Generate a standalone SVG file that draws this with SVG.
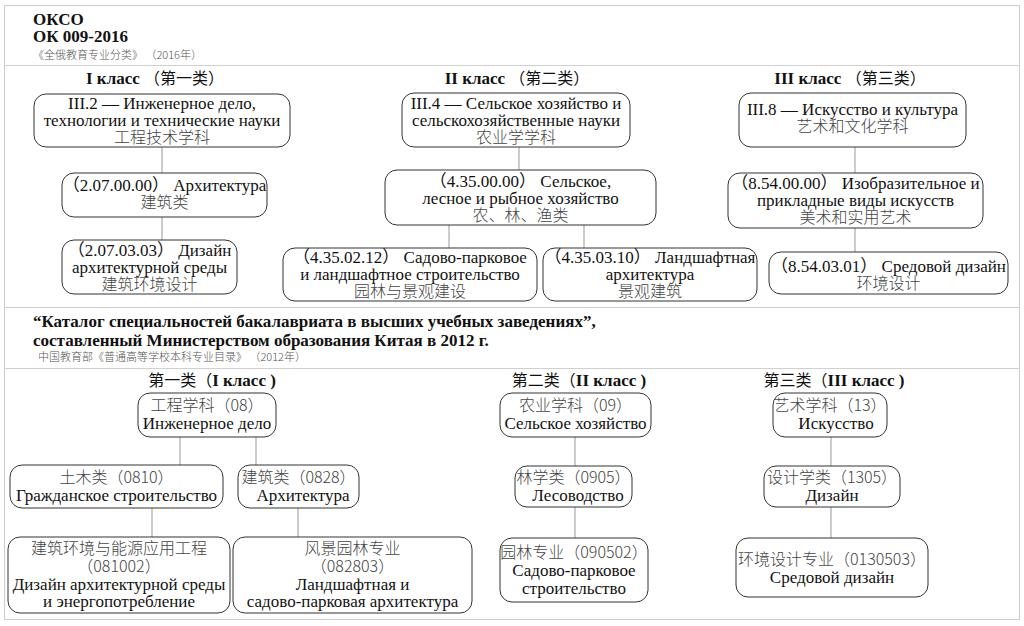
<svg xmlns="http://www.w3.org/2000/svg" width="1024" height="626" viewBox="0 0 1024 626">
<style>
.frame{fill:none;stroke:#d0d0d0;stroke-width:1.2}
.box{fill:#fff;stroke:#333;stroke-width:1}
.conn{stroke:#999;stroke-width:1;fill:none}
.ru{font-family:"Liberation Serif","Noto Sans CJK SC",serif;font-size:17px;fill:#111;text-anchor:middle}
.zh{font-family:"Noto Sans CJK SC",sans-serif;font-size:16px;font-weight:300;fill:#444;text-anchor:middle}
.title{font-family:"Liberation Serif","Noto Sans CJK SC",serif;font-size:17px;font-weight:bold;fill:#111}
.sub{font-family:"Noto Sans CJK SC",sans-serif;font-size:11px;font-weight:300;fill:#555}
.hdr{font-family:"Liberation Serif","Noto Sans CJK SC",serif;font-size:17px;fill:#111;text-anchor:middle}
.b{font-weight:bold}
.hz{font-family:"Noto Sans CJK SC",sans-serif;font-weight:400;font-size:16px}
</style>
<rect id="frame" class="frame" x="4.5" y="5.5" width="1015" height="614"/>
<line class="frame" x1="4.5" y1="65.5" x2="1019.5" y2="65.5"/>
<line class="frame" x1="4.5" y1="307.5" x2="1019.5" y2="307.5"/>
<line class="frame" x1="4.5" y1="368.5" x2="1019.5" y2="368.5"/>

<g id="header-top">
<text class="title" x="33" y="25">ОКСО</text>
<text class="title" x="33" y="42">ОК 009-2016</text>
<text class="sub" x="33" y="59">《全俄教育专业分类》 （2016年）</text>
</g>
<g id="header-bottom">
<text class="title" x="33" y="327">“Каталог специальностей бакалавриата в высших учебных заведениях”,</text>
<text class="title" x="33" y="346">составленный Министерством образования Китая в 2012 г.</text>
<text class="sub" x="38" y="361">中国教育部《普通高等学校本科专业目录》 （2012年）</text>
</g>

<g id="class-headers">
<text class="hdr" x="155" y="84"><tspan class="b">I класс </tspan><tspan class="hz">（第一类）</tspan></text>
<text class="hdr" x="517" y="84"><tspan class="b">II класс </tspan><tspan class="hz">（第二类）</tspan></text>
<text class="hdr" x="850" y="84"><tspan class="b">III класс </tspan><tspan class="hz">（第三类）</tspan></text>
<text class="hdr" x="212" y="386"><tspan class="hz">第一类（</tspan><tspan class="b">I класс )</tspan></text>
<text class="hdr" x="579" y="386"><tspan class="hz">第二类（</tspan><tspan class="b">II класс )</tspan></text>
<text class="hdr" x="834" y="386"><tspan class="hz">第三类（</tspan><tspan class="b">III класс )</tspan></text>
</g>

<g id="connectors">
<line class="conn" x1="162" y1="147" x2="162" y2="173"/>
<line class="conn" x1="162" y1="217" x2="162" y2="240"/>
<line class="conn" x1="519" y1="147" x2="519" y2="170"/>
<line class="conn" x1="449" y1="225" x2="449" y2="248"/>
<line class="conn" x1="584" y1="225" x2="584" y2="248"/>
<line class="conn" x1="855" y1="147" x2="855" y2="173"/>
<line class="conn" x1="855" y1="228" x2="855" y2="252"/>
<line class="conn" x1="180" y1="437" x2="180" y2="465"/>
<line class="conn" x1="256" y1="437" x2="256" y2="465"/>
<line class="conn" x1="152" y1="508" x2="152" y2="537"/>
<line class="conn" x1="298" y1="508" x2="298" y2="537"/>
<line class="conn" x1="575" y1="437" x2="575" y2="466"/>
<line class="conn" x1="575" y1="507" x2="575" y2="538"/>
<line class="conn" x1="831" y1="437" x2="831" y2="466"/>
<line class="conn" x1="831" y1="507" x2="831" y2="538"/>
</g>

<g id="A1"><rect class="box" x="34" y="94" width="256" height="53" rx="12"/>
<text class="ru" x="162" y="109">III.2 — Инженерное дело,</text>
<text class="ru" x="162" y="126">технологии и технические науки</text>
<text class="zh" x="162" y="143">工程技术学科</text></g>

<g id="A2"><rect class="box" x="62" y="173" width="205" height="44" rx="12"/>
<text class="ru" x="164.5" y="191">（2.07.00.00） Архитектура</text>
<text class="zh" x="164.5" y="208">建筑类</text></g>

<g id="A3"><rect class="box" x="62" y="240" width="175" height="54" rx="12"/>
<text class="ru" x="149.5" y="256">（2.07.03.03） Дизайн</text>
<text class="ru" x="149.5" y="273">архитектурной среды</text>
<text class="zh" x="149.5" y="290">建筑环境设计</text></g>

<g id="B1"><rect class="box" x="402" y="93" width="228" height="54" rx="12"/>
<text class="ru" x="516" y="109">III.4 — Сельское хозяйство и</text>
<text class="ru" x="516" y="126">сельскохозяйственные науки</text>
<text class="zh" x="516" y="143">农业学学科</text></g>

<g id="B2"><rect class="box" x="385" y="170" width="271" height="55" rx="12"/>
<text class="ru" x="520.5" y="187">（4.35.00.00） Сельское,</text>
<text class="ru" x="520.5" y="204">лесное и рыбное хозяйство</text>
<text class="zh" x="520.5" y="221">农、林、渔类</text></g>

<g id="B3"><rect class="box" x="283" y="248" width="254" height="53" rx="12"/>
<text class="ru" x="410" y="263">（4.35.02.12） Садово-парковое</text>
<text class="ru" x="410" y="280">и ландшафтное строительство</text>
<text class="zh" x="410" y="297">园林与景观建设</text></g>

<g id="B4"><rect class="box" x="543" y="248" width="214" height="53" rx="12"/>
<text class="ru" x="650" y="263">（4.35.03.10） Ландшафтная</text>
<text class="ru" x="650" y="280">архитектура</text>
<text class="zh" x="650" y="297">景观建筑</text></g>

<g id="C1"><rect class="box" x="739" y="93" width="227" height="54" rx="12"/>
<text class="ru" x="852.5" y="115">III.8 — Искусство и культура</text>
<text class="zh" x="852.5" y="132">艺术和文化学科</text></g>

<g id="C2"><rect class="box" x="728" y="173" width="255" height="55" rx="12"/>
<text class="ru" x="855.5" y="189">（8.54.00.00） Изобразительное и</text>
<text class="ru" x="855.5" y="206">прикладные виды искусств</text>
<text class="zh" x="855.5" y="223">美术和实用艺术</text></g>

<g id="C3"><rect class="box" x="769" y="252" width="239" height="42" rx="12"/>
<text class="ru" x="888.5" y="272">（8.54.03.01） Средовой дизайн</text>
<text class="zh" x="888.5" y="289">环境设计</text></g>

<g id="D1"><rect class="box" x="138" y="393" width="138" height="44" rx="12"/>
<text class="zh" x="207" y="411">工程学科（08）</text>
<text class="ru" x="207" y="429">Инженерное дело</text></g>

<g id="D2"><rect class="box" x="10" y="465" width="213" height="43" rx="12"/>
<text class="zh" x="116.5" y="483">土木类（0810）</text>
<text class="ru" x="116.5" y="501">Гражданское строительство</text></g>

<g id="D3"><rect class="box" x="238" y="465" width="121" height="43" rx="12"/>
<text class="zh" x="298.5" y="483">建筑类（0828）</text>
<text class="ru" x="303" y="501">Архитектура</text></g>

<g id="D4"><rect class="box" x="8" y="537" width="222" height="76" rx="12"/>
<text class="zh" x="119" y="554">建筑环境与能源应用工程</text>
<text class="zh" x="119" y="572">（081002）</text>
<text class="ru" x="119" y="590">Дизайн архитектурной среды</text>
<text class="ru" x="119" y="607">и энергопотребление</text></g>

<g id="D5"><rect class="box" x="233" y="537" width="239" height="76" rx="12"/>
<text class="zh" x="352.5" y="554">风景园林专业</text>
<text class="zh" x="352.5" y="572">（082803）</text>
<text class="ru" x="352.5" y="590">Ландшафтная и</text>
<text class="ru" x="352.5" y="607">садово-парковая архитектура</text></g>

<g id="E1"><rect class="box" x="500" y="393" width="151" height="44" rx="12"/>
<text class="zh" x="575.5" y="411">农业学科（09）</text>
<text class="ru" x="575.5" y="429">Сельское хозяйство</text></g>

<g id="E2"><rect class="box" x="515" y="466" width="117" height="41" rx="12"/>
<text class="zh" x="573.5" y="483">林学类（0905）</text>
<text class="ru" x="578" y="501">Лесоводство</text></g>

<g id="E3"><rect class="box" x="500" y="538" width="148" height="64" rx="12"/>
<text class="zh" x="574" y="558">园林专业（090502）</text>
<text class="ru" x="574" y="576">Садово-парковое</text>
<text class="ru" x="574" y="594">строительство</text></g>

<g id="F1"><rect class="box" x="773" y="393" width="114" height="44" rx="12"/>
<text class="zh" x="830" y="411">艺术学科（13）</text>
<text class="ru" x="836" y="429">Искусство</text></g>

<g id="F2"><rect class="box" x="764" y="466" width="136" height="41" rx="12"/>
<text class="zh" x="832" y="483">设计学类（1305）</text>
<text class="ru" x="832" y="501">Дизайн</text></g>

<g id="F3"><rect class="box" x="736" y="538" width="192" height="59" rx="12"/>
<text class="zh" x="832" y="565">环境设计专业（0130503）</text>
<text class="ru" x="832" y="583">Средовой дизайн</text></g>
</svg>
